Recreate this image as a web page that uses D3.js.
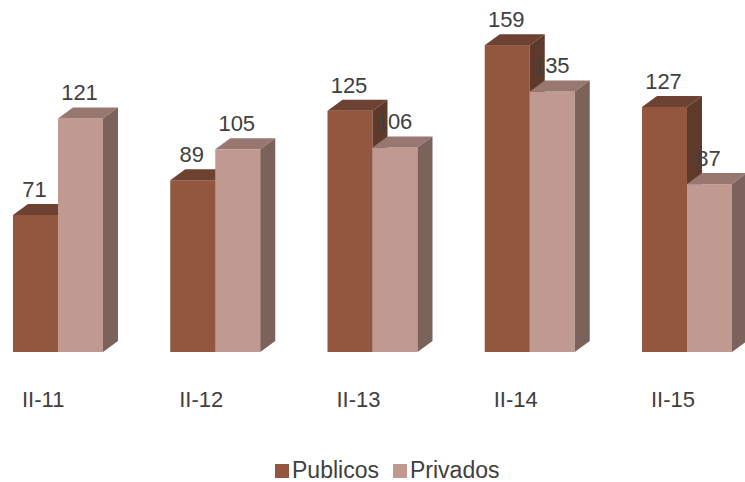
<!DOCTYPE html>
<html>
<head>
<meta charset="utf-8">
<script src="https://cdn.jsdelivr.net/npm/d3@7/dist/d3.min.js"></script>
<style>
  body { margin: 0; background: #fff; }
  svg { font-family: 'Liberation Sans', Arial, sans-serif; }
</style>
</head>
<body>
<div id="chart"></div>
<script>
const periods = ['II-11', 'II-12', 'II-13', 'II-14', 'II-15']
const publicos = [71, 89, 125, 159, 127]
const privados = [121, 105, 106, 135, 87]
const seriesNames = ['Publicos', 'Privados']

const width = 745
const height = 482
const depthX = 15
const depthY = 11
const textColor = '#404040'

const colors = {
    Publicos: { front: '#93573f', top: '#6e4232', side: '#5e3a2c' },
    Privados: { front: '#c09a90', top: '#977770', side: '#7b635b' }
}

const svg = d3.select('#chart').append('svg')
    .attr('width', width)
    .attr('height', height)

const x = d3.scaleBand().domain(periods).range([13, 13 + 157.25 * 5]).paddingInner(0).paddingOuter(0)
const xInner = d3.scaleBand().domain(seriesNames).range([0, 90])
const y = d3.scaleLinear().domain([0, 180]).range([352, 4.6])

const rows = []
periods.forEach((p, i) => {
    rows.push({ period: p, series: 'Publicos', value: publicos[i] })
    rows.push({ period: p, series: 'Privados', value: privados[i] })
})

const bars = svg.append('g')

rows.forEach(d => {
    const x0 = x(d.period) + xInner(d.series)
    const x1 = x0 + xInner.bandwidth()
    const yt = y(d.value)
    const yb = y(0)
    const c = colors[d.series]
    const g = bars.append('g')

    g.append('rect')
        .attr('x', x0).attr('y', yt)
        .attr('width', x1 - x0).attr('height', yb - yt)
        .attr('fill', c.front)
    g.append('path')
        .attr('d', `M${x0},${yt}L${x0 + depthX},${yt - depthY}L${x1 + depthX},${yt - depthY}L${x1},${yt}Z`)
        .attr('fill', c.top)
    g.append('path')
        .attr('d', `M${x1},${yt}L${x1 + depthX},${yt - depthY}L${x1 + depthX},${yb - depthY}L${x1},${yb}Z`)
        .attr('fill', c.side)
})

// value labels
svg.append('g').selectAll('text')
    .data(rows)
    .join('text')
    .attr('x', d => x(d.period) + xInner(d.series) + xInner.bandwidth() / 2 - 1)
    .attr('y', d => y(d.value) - depthY - 7)
    .attr('text-anchor', 'middle')
    .attr('font-size', 22)
    .attr('fill', textColor)
    .text(d => d.value)

// category labels
svg.append('g').selectAll('text')
    .data(periods)
    .join('text')
    .attr('x', d => x(d) + 9)
    .attr('y', 407)
    .attr('font-size', 22)
    .attr('fill', textColor)
    .text(d => d)

// legend
const legend = svg.append('g').attr('transform', 'translate(275 464)')
const legendItems = [
    { name: 'Publicos', color: colors.Publicos.front, dx: 0 },
    { name: 'Privados', color: colors.Privados.front, dx: 118 }
]
legendItems.forEach(item => {
    const lg = legend.append('g').attr('transform', `translate(${item.dx} 0)`)
    lg.append('rect').attr('width', 14).attr('height', 14).attr('fill', item.color)
    lg.append('text')
        .attr('x', 17).attr('y', 14)
        .attr('font-size', 23)
        .attr('fill', textColor)
        .text(item.name)
})
</script>
</body>
</html>
